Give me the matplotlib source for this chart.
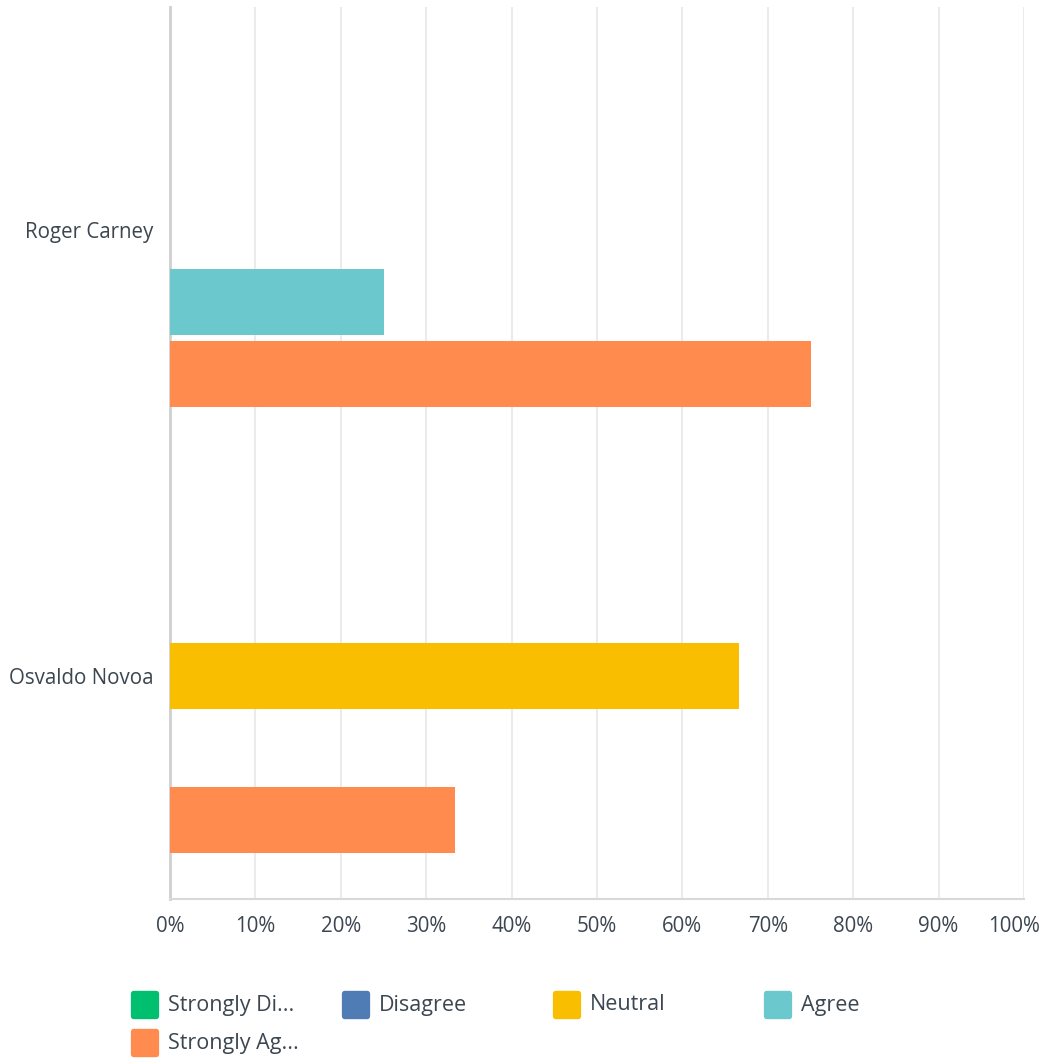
import matplotlib.pyplot as plt
from matplotlib.patches import FancyBboxPatch
from matplotlib.transforms import ScaledTranslation

# data
respondents = ["Roger Carney", "Osvaldo Novoa"]
series = ["Strongly Disagree", "Disagree", "Neutral", "Agree", "Strongly Agree"]
legend_labels = ["Strongly Di...", "Disagree", "Neutral", "Agree", "Strongly Ag..."]
colors = ["#00BF6F", "#507CB6", "#F9BE00", "#6BC8CD", "#FF8B4F"]
values = {
    "Strongly Disagree": [0, 0],
    "Disagree": [0, 0],
    "Neutral": [0, 66.67],
    "Agree": [25.0, 0],
    "Strongly Agree": [75.0, 33.33],
}
ticks = list(range(0, 101, 10))
tick_labels = [f"{t}%" for t in ticks]

text_color = "#3B4650"
plt.rcParams["font.family"] = ["Open Sans", "DejaVu Sans"]

W, H = 1044, 1062
fig = plt.figure(figsize=(W / 100, H / 100), dpi=100)
ax = fig.add_axes([170 / W, 1 - 899 / H, 854 / W, 892 / H])

step = 0.1614
height = 0.146
for i, s in enumerate(series):
    pos = [k + (i - 2) * step for k in range(len(respondents))]
    ax.barh(pos, values[s], height=height, color=colors[i], zorder=3)

ax.set_xlim(0, 100)
ax.set_ylim(1.5, -0.5)
ax.set_xticks(ticks)
ax.set_xticklabels(tick_labels)
ax.set_yticks(range(len(respondents)))
ax.set_yticklabels(respondents)
ax.tick_params(axis="both", length=0, labelsize=14.8, colors=text_color)
ax.tick_params(axis="x", pad=12)
ax.tick_params(axis="y", pad=12)
ax.grid(axis="x", color="#EBEBEB", linewidth=1.5, zorder=0)

# keep the 100% label inside the canvas
last = ax.get_xticklabels()[-1]
last.set_transform(last.get_transform() + ScaledTranslation(-0.10, 0, fig.dpi_scale_trans))

for side in ["top", "right"]:
    ax.spines[side].set_visible(False)
ax.spines["left"].set_color("#CFCFCF")
ax.spines["left"].set_linewidth(2)
ax.spines["bottom"].set_color("#D8D8D8")
ax.spines["bottom"].set_linewidth(1.5)

# legend, drawn by hand in pixel layout
col_x = [131, 342, 553, 764]
row_y = [1005, 1043]
box = 28
for i, (lab, c) in enumerate(zip(legend_labels, colors)):
    x = col_x[i % 4]
    y = row_y[i // 4]
    patch = FancyBboxPatch(((x + 3) / W, 1 - (y + box / 2 - 3) / H), (box - 6) / W, (box - 6) / H,
                           boxstyle="round,pad=0.003", transform=fig.transFigure,
                           facecolor=c, edgecolor=c, linewidth=0)
    fig.add_artist(patch)
    fig.text((x + box + 9) / W, 1 - y / H, lab, fontsize=15.5, color=text_color,
             va="center", ha="left")

fig.savefig("out.png", dpi=100)
